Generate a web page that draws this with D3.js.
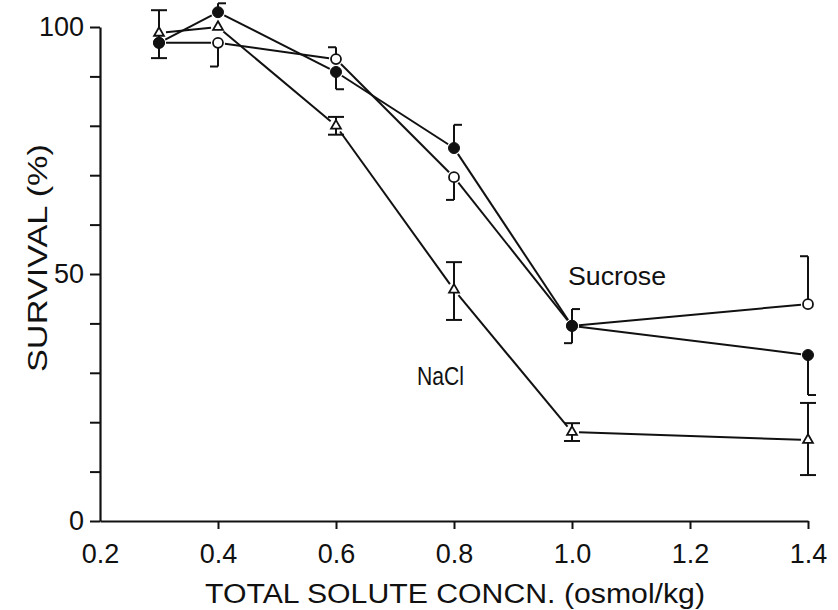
<!DOCTYPE html>
<html>
<head>
<meta charset="utf-8">
<script src="https://cdn.jsdelivr.net/npm/d3@7"></script>
<style>
  html, body { margin: 0; padding: 0; background: #fff; }
  svg { display: block; }
  text { font-family: "Liberation Sans", Arial, sans-serif; fill: #111; }
</style>
</head>
<body>
<svg id="chart" width="838" height="610"></svg>
<script>
// ---------------- DATA ----------------
const concn = [0.3, 0.4, 0.6, 0.8, 1.0, 1.4];
const xTicks = [0.2, 0.4, 0.6, 0.8, 1.0, 1.2, 1.4];
const yTicks = [0, 10, 20, 30, 40, 50, 60, 70, 80, 90, 100];
const yTickLabels = [0, 50, 100];

// open circles
const openVals  = [96.8, 96.8, 93.5, 69.6, 39.5, 43.9];
const openUpper = [null, null, 95.9, null, 42.9, 53.6];
const openLower = [null, 92.0, null, 65.0, 36.0, null];
// filled circles
const fillVals  = [96.8, 103.0, 90.9, 75.5, 39.5, 33.6];
const fillUpper = [null, 104.8, null, 80.2, null, null];
const fillLower = [null, null, 87.4, null, null, 25.5];
// triangles (NaCl)
const triVals   = [98.8, 100.0, 80.0, 46.8, 18.0, 16.4];
const triUpper  = [103.4, null, 81.8, 52.4, 19.8, 23.9];
const triLower  = [93.7, null, 78.2, 40.7, 16.2, 9.3];

// cap directions (style): -1 left, 1 right, 0 both sides
const openCapUp  = [0, 0, -1, 0, 1, -1];
const openCapLo  = [0, -1, 0, -1, -1, 0];
const fillCapUp  = [0, 1, 0, 1, 0, 0];
const fillCapLo  = [0, 0, 1, 0, 0, 1];

// ---------------- DRAW ----------------
const svg = d3.select("#chart");
const x = d3.scaleLinear().domain([0.2, 1.4]).range([100, 808]);
const y = d3.scaleLinear().domain([0, 100]).range([521, 27]);
const ink = "#111";

// Axes
const yAxis = d3.axisLeft(y).tickValues(yTicks).tickSize(10).tickSizeOuter(0)
  .tickPadding(6)
  .tickFormat(d => yTickLabels.includes(d) ? String(d) : "");
const gy = svg.append("g").attr("transform", "translate(100,0)").call(yAxis);
gy.select(".domain").attr("stroke", ink).attr("stroke-width", 2.2);
gy.selectAll(".tick line").attr("stroke", ink).attr("stroke-width", 2);
gy.selectAll(".tick text").style("font-size", "27px").attr("fill", ink).attr("font-family", "Liberation Sans");

const xAxis = d3.axisBottom(x).tickValues(xTicks).tickSize(8).tickSizeOuter(0)
  .tickPadding(15).tickFormat(d3.format(".1f"));
const gx = svg.append("g").attr("transform", "translate(0,521)").call(xAxis);
gx.select(".domain").attr("stroke", ink).attr("stroke-width", 2.2);
gx.selectAll(".tick line").attr("stroke", ink).attr("stroke-width", 2);
gx.selectAll(".tick text").style("font-size", "27px").attr("fill", ink).attr("font-family", "Liberation Sans");
gx.selectAll(".tick").filter(d => d === 0.2).select("line").remove();

// Axis titles
svg.append("text")
  .attr("x", 455).attr("y", 603)
  .attr("text-anchor", "middle")
  .style("font-size", "27px")
  .attr("textLength", 500).attr("lengthAdjust", "spacingAndGlyphs")
  .text("TOTAL SOLUTE CONCN. (osmol/kg)");

svg.append("text")
  .attr("transform", "translate(47,258) rotate(-90)")
  .attr("text-anchor", "middle")
  .style("font-size", "27px")
  .attr("textLength", 228).attr("lengthAdjust", "spacingAndGlyphs")
  .text("SURVIVAL (%)");

// Annotations
svg.append("text").attr("x", 568).attr("y", 285).style("font-size", "25px")
  .attr("textLength", 98).attr("lengthAdjust", "spacingAndGlyphs").text("Sucrose");
svg.append("text").attr("x", 417).attr("y", 385).style("font-size", "25px")
  .attr("textLength", 47).attr("lengthAdjust", "spacingAndGlyphs").text("NaCl");

// helper: shortened line segments between markers
function drawSeries(vals, gap) {
  const g = svg.append("g");
  for (let i = 0; i < vals.length - 1; i++) {
    const x1 = x(concn[i]), y1 = y(vals[i]);
    const x2 = x(concn[i + 1]), y2 = y(vals[i + 1]);
    const dx = x2 - x1, dy = y2 - y1, L = Math.hypot(dx, dy);
    const ux = dx / L, uy = dy / L;
    g.append("line")
      .attr("x1", x1 + ux * gap).attr("y1", y1 + uy * gap)
      .attr("x2", x2 - ux * gap).attr("y2", y2 - uy * gap)
      .attr("stroke", ink).attr("stroke-width", 2);
  }
}

function drawErr(vals, upper, lower, capUp, capLo) {
  const g = svg.append("g");
  const cw = 8;
  vals.forEach((v, i) => {
    const cx = x(concn[i]);
    [[upper[i], capUp ? capUp[i] : 0], [lower[i], capLo ? capLo[i] : 0]].forEach(([e, dir]) => {
      if (e === null) return;
      g.append("line").attr("x1", cx).attr("x2", cx)
        .attr("y1", y(v)).attr("y2", y(e))
        .attr("stroke", ink).attr("stroke-width", 2);
      const xa = dir === 1 ? cx : cx - cw;
      const xb = dir === -1 ? cx : cx + cw;
      g.append("line").attr("x1", xa).attr("x2", xb)
        .attr("y1", y(e)).attr("y2", y(e))
        .attr("stroke", ink).attr("stroke-width", 2);
    });
  });
}

drawSeries(triVals, 7);
drawSeries(openVals, 7);
drawSeries(fillVals, 7);

drawErr(triVals, triUpper, triLower, null, null);
drawErr(openVals, openUpper, openLower, openCapUp, openCapLo);
drawErr(fillVals, fillUpper, fillLower, fillCapUp, fillCapLo);

// markers
const tri = d3.symbol().type(d3.symbolTriangle).size(42);
svg.append("g").selectAll("path").data(triVals).join("path")
  .attr("d", tri)
  .attr("transform", (d, i) => `translate(${x(concn[i])},${y(d)})`)
  .attr("fill", "#fff").attr("stroke", ink).attr("stroke-width", 1.8);

svg.append("g").selectAll("circle").data(openVals).join("circle")
  .attr("cx", (d, i) => x(concn[i])).attr("cy", d => y(d)).attr("r", 5)
  .attr("fill", "#fff").attr("stroke", ink).attr("stroke-width", 1.8);

svg.append("g").selectAll("circle").data(fillVals).join("circle")
  .attr("cx", (d, i) => x(concn[i])).attr("cy", d => y(d)).attr("r", 5.5)
  .attr("fill", ink).attr("stroke", ink).attr("stroke-width", 1);
</script>
</body>
</html>
